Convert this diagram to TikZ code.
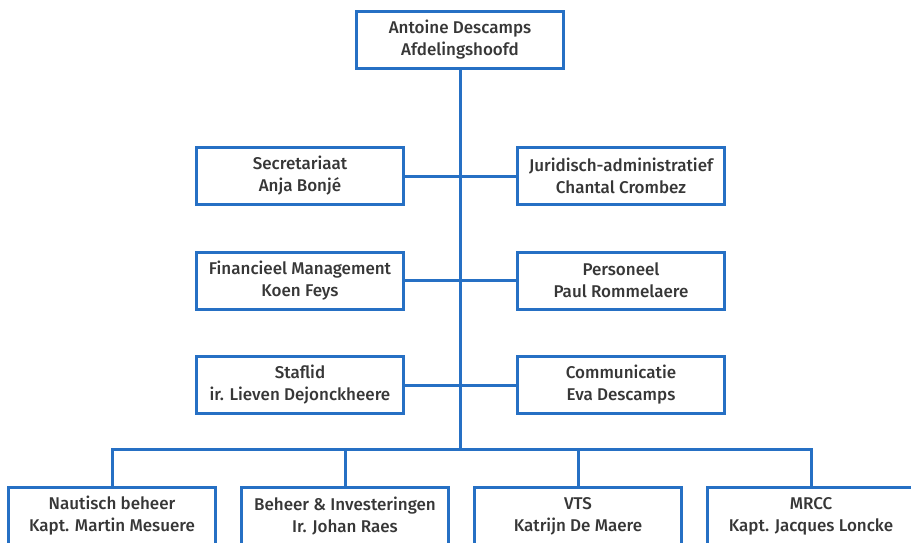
\documentclass[tikz,border=0pt]{standalone}
\usepackage{fontspec}
\setmainfont{Fira Sans}[UprightFont={* Medium}]
\definecolor{myblue}{RGB}{38,112,196}
\definecolor{txt}{RGB}{55,55,55}
\begin{document}
\begin{tikzpicture}[x=1pt,y=-1pt,
  box/.style={draw=myblue, line width=3pt, minimum width=207pt, minimum height=57pt,
    align=center, font=\fontsize{17}{22}\selectfont, text=txt, inner sep=0pt, fill=white},
  conn/.style={draw=myblue, line width=3pt}]
\useasboundingbox (0,0) rectangle (911,542);
\clip (0,0) rectangle (911,542);
\fill[white] (0,0) rectangle (911,542);
\coordinate (busM) at (460,449);
\node[box] (top) at (460,39.5) {Antoine Descamps\\Afdelingshoofd};
\node[box] (sec) at (300,176) {Secretariaat\\Anja Bonjé};
\node[box] (jur) at (621,176) {Juridisch-administratief\\Chantal Crombez};
\node[box] (fin) at (300,280.5) {Financieel Management\\Koen Feys};
\node[box] (per) at (621,280.5) {Personeel\\Paul Rommelaere};
\node[box] (sta) at (300,385) {Staflid\\ir. Lieven Dejonckheere};
\node[box] (com) at (621,385) {Communicatie\\Eva Descamps};
\node[box] (n1) at (112,516) {Nautisch beheer\\Kapt. Martin Mesuere};
\node[box] (n2) at (345,516) {Beheer \& Investeringen\\Ir. Johan Raes};
\node[box] (n3) at (578,516) {VTS\\Katrijn De Maere};
\node[box] (n4) at (811,516) {MRCC\\Kapt. Jacques Loncke};
\draw[conn] (top.south) -- (busM);
\draw[conn] (sec.east) -- (jur.west |- sec.east);
\draw[conn] (fin.east) -- (per.west |- fin.east);
\draw[conn] (sta.east) -- (com.west |- sta.east);
\draw[conn] (n1.north) |- (n4.north |- busM) -- (n4.north);
\draw[conn] (n2.north) -- (n2.north |- busM);
\draw[conn] (n3.north) -- (n3.north |- busM);
\end{tikzpicture}
\end{document}
